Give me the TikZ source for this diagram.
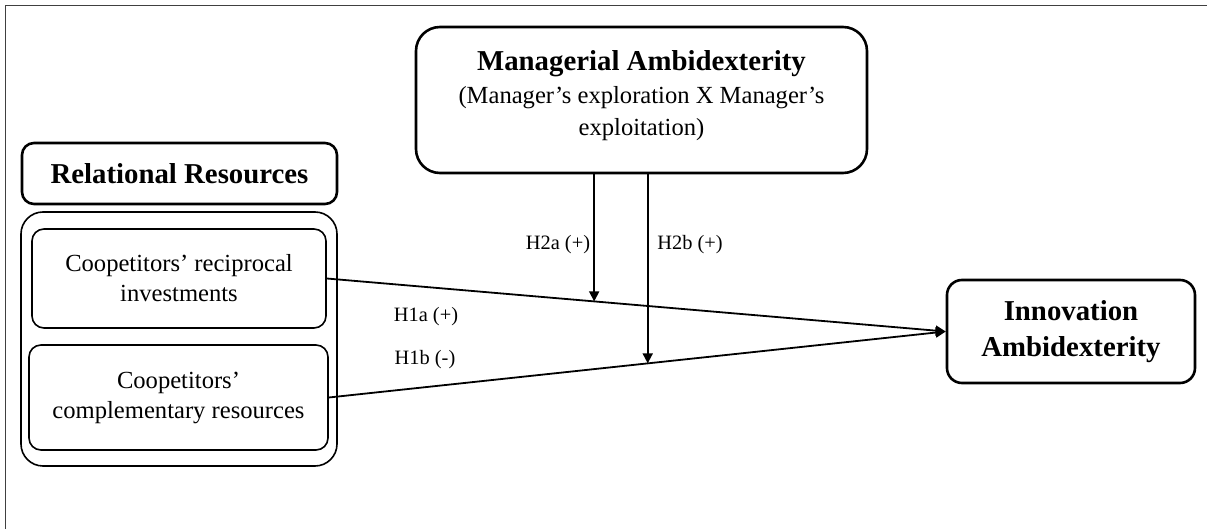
\documentclass[tikz,border=0pt]{standalone}
\usepackage{fontspec}
\setmainfont{Liberation Serif}
\usetikzlibrary{arrows.meta,calc}

\tikzset{
  heavybox/.style={draw, line width=1.3pt, rounded corners=6pt, align=center, inner sep=0pt},
  lightbox/.style={draw, line width=0.8pt, rounded corners=6pt, align=center, inner sep=0pt},
  bigtext/.style={font=\bfseries\fontsize{14.4}{18}\selectfont},
  smalltext/.style={font=\fontsize{12.3}{15}\selectfont},
  hyp/.style={font=\fontsize{10.2}{12}\selectfont, inner sep=0pt},
  link/.style={line width=0.9pt, -{Triangle[length=5pt,width=5pt]}}
}

\begin{document}
\begin{tikzpicture}[x=0.5pt, y=-0.5pt]
      \useasboundingbox (0,0) rectangle (1207,529);
      \draw[line width=0.5pt, black!75] (5,529) -- (5,6) -- (1207,6);

      \node[heavybox, rounded corners=12pt, minimum width=225.5pt, minimum height=73pt,
        font=\fontsize{12.3}{16}\selectfont] (mgr) at (641.5,100)
        {{\bfseries\fontsize{14.4}{16}\selectfont Managerial Ambidexterity}\\[0.5pt]
         (Manager’s exploration X Manager’s\\ exploitation)\\[-9pt] \mbox{}};
      \node[heavybox, minimum width=157.5pt, minimum height=30.5pt, bigtext] (rel)
        at (179.5,173.5) {Relational Resources};
      \node[lightbox, rounded corners=11pt, minimum width=158pt, minimum height=127pt]
        (group) at (179,339) {};
      \node[lightbox, minimum width=147pt, minimum height=49.5pt, smalltext] (inv)
        at (179,278.5) {Coopetitors’ reciprocal\\ investments};
      \node[lightbox, minimum width=149.5pt, minimum height=52.5pt, smalltext] (comp)
        at (178.5,397.5) {Coopetitors’\\ complementary resources};
      \node[heavybox, rounded corners=7.5pt, minimum width=124pt, minimum height=51.5pt,
        bigtext] (inno) at (1071,331.5) {Innovation\\ Ambidexterity};

      \coordinate (m1) at ($(inv.east)!0.432!(inno.west)$);
      \coordinate (m2) at ($(comp.east)!0.517!(inno.west)$);

      \begin{scope}[link]
        \draw (inv.east) to (inno.west);
        \draw (comp.east) to (inno.west);
        \draw (m1 |- mgr.south) to (m1);
        \draw (m2 |- mgr.south) to (m2);
      \end{scope}

      \node[hyp] (h2a) at (558,245) {H2a (+)};
      \node[hyp] (h2b) at (690,245) {H2b (+)};
      \node[hyp] (h1a) at (426,317) {H1a (+)};
      \node[hyp] (h1b) at (425,360) {H1b (-)};
    \end{tikzpicture}
\end{document}
